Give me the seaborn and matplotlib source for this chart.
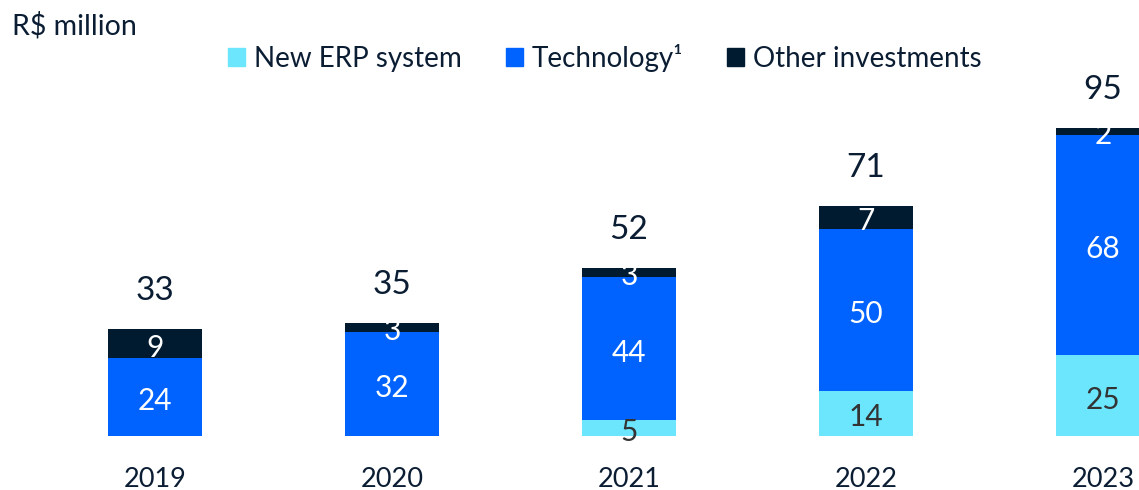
# plot.py
# Stacked investment bars (R$ million), 2019-2023

import numpy as np
import pandas as pd
import matplotlib.pyplot as plt
import seaborn as sns

# Data
years = ["2019", "2020", "2021", "2022", "2023"]
erp = [0, 0, 5, 14, 25]
tech = [24, 32, 44, 50, 68]
other = [9, 3, 3, 7, 2]
legend_labels = ["New ERP system", "Technology¹", "Other investments"]

# Colors
c_erp = "#6CE6FD"
c_tech = "#0062FF"
c_other = "#001A30"
c_text = "#0B1D33"

sns.set_theme(style="white")
plt.rcParams["font.family"] = ["Lato", "DejaVu Sans"]

df = pd.DataFrame({"year": years, "erp": erp, "tech": tech, "other": other})
df["erp_tech"] = df["erp"] + df["tech"]
df["total"] = df["erp_tech"] + df["other"]

fig = plt.figure(figsize=(11.39, 4.9), dpi=100)
ax = fig.add_axes([0, 54 / 490, 1, 436 / 490])

# Stack by drawing cumulative heights back to front
bar_kw = dict(width=0.4, saturation=1, linewidth=0, ax=ax)
sns.barplot(data=df, x="year", y="total", color=c_other, **bar_kw)
sns.barplot(data=df, x="year", y="erp_tech", color=c_tech, **bar_kw)
sns.barplot(data=df, x="year", y="erp", color=c_erp, **bar_kw)

ax.set_xlim(-155 / 237, 984 / 237)
ax.set_ylim(0, 436 / 3.24)


def seg_label(x, y, txt, color):
    # labels sit a touch below the segment middle, like the original
    ax.annotate(txt, (x, y), xytext=(0, -4), textcoords="offset pixels",
                ha="center", va="center", fontsize=21.5, color=color)


# Segment labels
for i, row in df.iterrows():
    if row["erp"] > 0:
        seg_label(i, row["erp"] / 2, f"{row['erp']}", "#333333")
    seg_label(i, row["erp"] + row["tech"] / 2, f"{row['tech']}", "white")
    seg_label(i, row["erp_tech"] + row["other"] / 2, f"{row['other']}", "white")
    ax.annotate(f"{row['total']}", (i, row["total"]), xytext=(0, 38), textcoords="offset pixels",
                ha="center", va="center", fontsize=24, color=c_text)

# Year labels
ax.set_xticks(range(len(years)))
ax.set_xticklabels(years, fontsize=19.5, color=c_text)
ax.tick_params(axis="x", length=0, pad=22)
ax.set_yticks([])
ax.set_xlabel("")
ax.set_ylabel("")
sns.despine(ax=ax, left=True, bottom=True)

# Unit label
fig.text(12 / 1139, 1 - 26 / 490, "R$ million", fontsize=20.5, color=c_text, ha="left", va="center")

# Legend
handles = [plt.Rectangle((0, 0), 1, 1, color=c) for c in (c_erp, c_tech, c_other)]
fig.legend(handles, legend_labels, ncol=3, frameon=False, loc="center left",
           bbox_to_anchor=(228 / 1139, 1 - 58 / 490), fontsize=20, labelcolor=c_text,
           handlelength=0.62, handleheight=0.62, handletextpad=0.3, columnspacing=1.6,
           borderpad=0, borderaxespad=0)

fig.savefig("out.png", dpi=100)
